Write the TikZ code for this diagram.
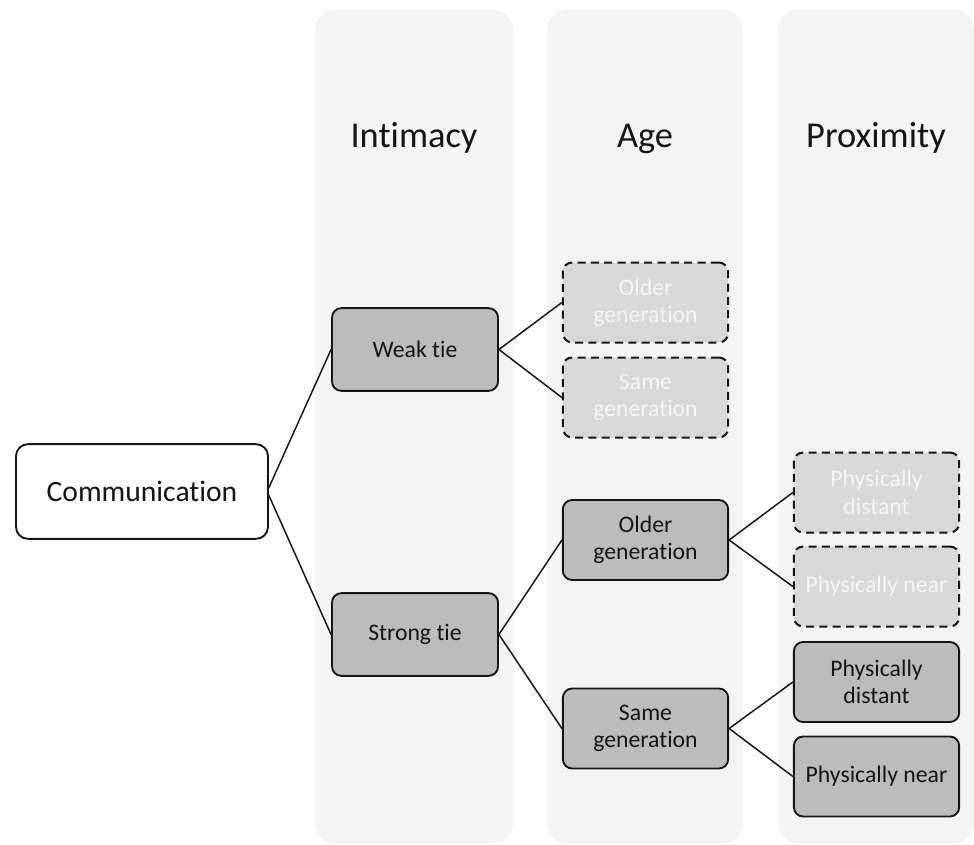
\documentclass[tikz,border=0pt]{standalone}
\usepackage{fontspec}
\setmainfont{Carlito}[Ligatures=NoCommon]
\definecolor{colbg}{HTML}{F4F4F4}
\definecolor{solidfill}{HTML}{BCBCBC}
\definecolor{dashfill}{HTML}{D8D8D8}
\definecolor{dashtext}{HTML}{F6F6F6}
\definecolor{ink}{HTML}{151515}
\begin{document}
\begin{tikzpicture}[x=0.75pt,y=-0.75pt,
  colbox/.style={fill=colbg,draw=none,rounded corners=15pt},
  title/.style={font=\fontsize{27.3pt}{32pt}\selectfont,text=ink,anchor=base},
  rootbox/.style={draw=ink,line width=1.4pt,fill=white,rounded corners=9pt,
    minimum width=189pt,minimum height=71pt,inner sep=0pt,
    font=\fontsize{22.2pt}{26pt}\selectfont,text=ink},
  solidbox/.style={draw=ink,line width=1.4pt,fill=solidfill,rounded corners=7pt,
    minimum width=124pt,minimum height=60pt,inner sep=0pt,align=center,
    font=\fontsize{17.8pt}{20.5pt}\selectfont,text=ink},
  dashbox/.style={solidbox,fill=dashfill,text=dashtext,line width=1.5pt,dash pattern=on 6pt off 4pt},
  tiebox/.style={solidbox,minimum width=124.5pt,minimum height=62pt},
  link/.style={draw=ink,line width=1.1pt}
]
\useasboundingbox (0,0) rectangle (974,845);
\fill[white] (0,0) rectangle (974,845);
% columns
\path[colbox] (315,10) rectangle (513,843);
\path[colbox] (547,10) rectangle (743,843);
\path[colbox] (778,10) rectangle (974,843);
% titles
\node[title] (tI) at (414,147) {Intimacy};
\node[title] (tA) at (645,147) {Age};
\node[title] (tP) at (876,147) {Proximity};
% nodes
\node[rootbox] (comm) at (142,491.5) {Communication};
\node[tiebox] (weak) at (415,349.5) {Weak tie};
\node[tiebox] (strong) at (415,634.5) {Strong tie};
\node[dashbox] (wold) at (645.5,302.5) {Older\\generation};
\node[dashbox] (wsame) at (645.5,397.5) {Same\\generation};
\node[solidbox] (sold) at (645.5,540) {Older\\generation};
\node[solidbox] (ssame) at (645.5,728.5) {Same\\generation};
\node[dashbox] (odist) at (876.5,492.5) {Physically\\distant};
\node[dashbox] (onear) at (876.5,586.5) {Physically near};
\node[solidbox] (sdist) at (876.5,682) {Physically\\distant};
\node[solidbox] (snear) at (876.5,776.5) {Physically near};
% connectors
\draw[link] ([yshift=3pt]comm.east) -- (weak.west);
\draw[link] ([yshift=-3pt]comm.east) -- (strong.west);
\draw[link] (weak.east) -- (wold.west);
\draw[link] (weak.east) -- (wsame.west);
\draw[link] (strong.east) -- (sold.west);
\draw[link] (strong.east) -- (ssame.west);
\draw[link] (sold.east) -- (odist.west);
\draw[link] (sold.east) -- (onear.west);
\draw[link] (ssame.east) -- (sdist.west);
\draw[link] (ssame.east) -- (snear.west);
\end{tikzpicture}
\end{document}
